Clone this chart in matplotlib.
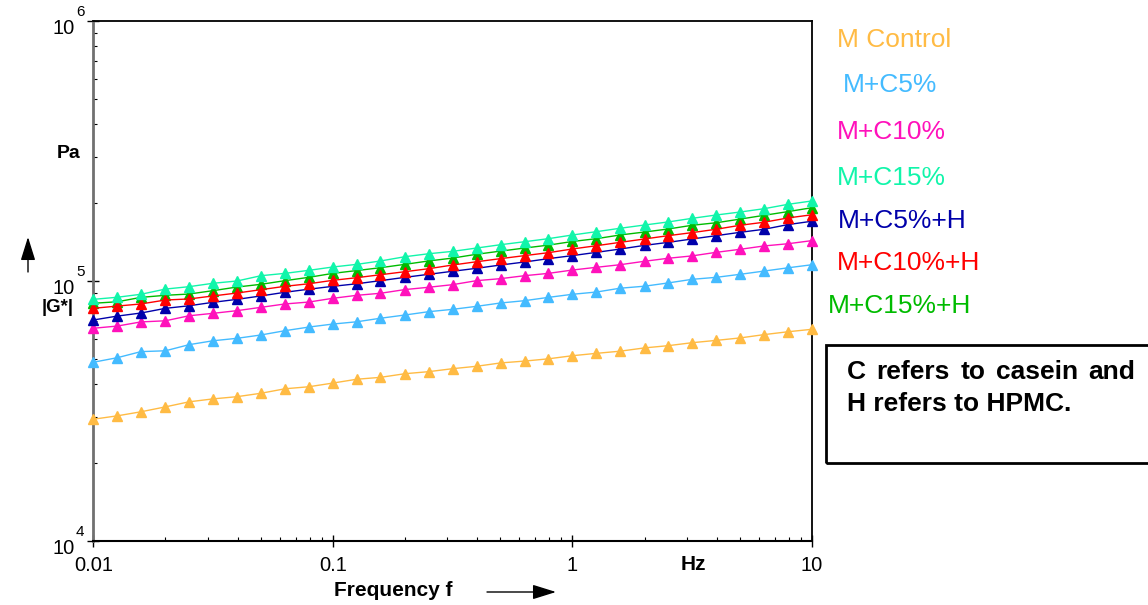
import matplotlib
matplotlib.use("Agg")
import matplotlib.pyplot as plt
import matplotlib.transforms as mtransforms
from matplotlib.ticker import LogLocator, FixedLocator, FixedFormatter, NullFormatter
from matplotlib.patches import Rectangle, FancyArrowPatch

plt.rcParams['font.family'] = ['Liberation Sans', 'DejaVu Sans']

# ---------------- data ----------------
freq = [0.01, 0.0126, 0.0158, 0.02, 0.0251, 0.0316, 0.0398, 0.0501, 0.0631, 0.0794,
        0.1, 0.126, 0.158, 0.2, 0.251, 0.316, 0.398, 0.501, 0.631, 0.794,
        1, 1.26, 1.58, 2, 2.51, 3.16, 3.98, 5.01, 6.31, 7.94, 10]

m_control = [29400, 30300, 31400, 32800, 34300, 35200, 35900, 37000, 38500, 39200,
             40500, 41900, 42600, 44000, 44800, 46000, 47000, 48400, 49200, 50200,
             51600, 52700, 53700, 55300, 56400, 57900, 59100, 60400, 62200, 63800, 65200]
m_c5 = [48700, 50700, 53500, 53900, 56900, 58900, 60200, 62000, 64400, 66500,
        68300, 69700, 71900, 74000, 76200, 77800, 79900, 82300, 84000, 86500,
        88900, 90700, 93800, 95500, 98300, 101500, 103300, 106100, 109200, 112400, 115500]
m_c10 = [65800, 67100, 69600, 70300, 73500, 75100, 76900, 79200, 81600, 83000,
         85800, 88100, 89700, 92700, 94600, 96800, 100300, 102100, 104800, 107000,
         110200, 112900, 115500, 119100, 122300, 124900, 128900, 132400, 136400, 139100, 143000]
m_c15 = [85000, 86600, 88900, 93100, 95100, 98000, 100000, 104800, 107000, 109900,
         113200, 115900, 119400, 124000, 127300, 130000, 133900, 137900, 141600, 145500,
         150300, 154800, 159500, 164200, 168700, 174200, 179400, 184200, 189700, 197200, 203200]
m_c5h = [70800, 73300, 75300, 78500, 80300, 82800, 85000, 87600, 90500, 93000,
         95400, 97600, 100300, 103300, 106100, 109000, 111900, 115200, 118300, 121900,
         125200, 128900, 132700, 137100, 140800, 145100, 149400, 153900, 158100, 164800, 169800]
m_c10h = [78500, 80100, 81600, 84500, 85300, 87600, 89900, 92600, 95400, 97600,
          100600, 103000, 105700, 108600, 111500, 115200, 118600, 121900, 125200, 128500,
          132800, 136700, 140800, 145100, 149400, 153500, 158100, 163800, 168300, 174800, 179800]
m_c15h = [82100, 83200, 86500, 88100, 89100, 91800, 94800, 97100, 100300, 103300,
          107000, 109700, 112500, 115900, 119400, 122500, 126700, 130300, 133900, 137400,
          141900, 145500, 150300, 154300, 158500, 163800, 167500, 173000, 178900, 184900, 191400]

series_names = ["M Control", "M+C5%", "M+C10%", "M+C15%", "M+C5%+H", "M+C10%+H", "M+C15%+H"]
series_values = [m_control, m_c5, m_c10, m_c15, m_c5h, m_c10h, m_c15h]
series_colors = ["#FFBB44", "#44BBFF", "#FF11BB", "#11F5AA", "#0000AA", "#FF0000", "#00BB00"]
series_z = [3, 3, 3, 7, 4, 6, 5]

xticks = [0.01, 0.1, 1, 10]
xtick_labels = ["0.01", "0.1", "1", "10"]
yticks = [1e4, 1e5, 1e6]
ytick_exponents = ["4", "5", "6"]

note_line1 = ["C", "refers", "to", "casein", "and"]
note_line2 = "H refers to HPMC."

W, H = 1148, 605
fig = plt.figure(figsize=(W / 100, H / 100), dpi=100)
fig.patch.set_facecolor("white")

def fx(x):
    return x / W

def fy(y):
    return 1 - y / H

AX_L, AX_R, AX_T, AX_B = 93.3, 812, 21, 541
ax = fig.add_axes([fx(AX_L), fy(AX_B), fx(AX_R) - fx(AX_L), fy(AX_T) - fy(AX_B)])

for name, vals, col, z in zip(series_names, series_values, series_colors, series_z):
    ax.plot(freq, vals, color=col, lw=1.0, marker="^", ms=6.5, mec=col, mfc=col,
            zorder=z, clip_on=False)

ax.set_xscale("log")
ax.set_yscale("log")
ax.set_xlim(0.01, 10)
ax.set_ylim(1e4, 1e6)

ax.xaxis.set_major_locator(FixedLocator(xticks))
ax.xaxis.set_major_formatter(FixedFormatter(xtick_labels))
ax.yaxis.set_major_locator(FixedLocator(yticks))
ax.yaxis.set_major_formatter(NullFormatter())
ax.xaxis.set_minor_locator(LogLocator(base=10, subs=range(2, 10)))
ax.yaxis.set_minor_locator(LogLocator(base=10, subs=range(2, 10)))
ax.xaxis.set_minor_formatter(NullFormatter())
ax.yaxis.set_minor_formatter(NullFormatter())

ax.tick_params(axis="both", which="major", direction="inout", length=8, width=1.0,
               labelsize=14.5, colors="black")
ax.tick_params(axis="x", which="major", pad=6.5)
ax.tick_params(axis="both", which="minor", direction="in", length=3, width=0.8)
ax.tick_params(top=False, right=False, which="both")

# y tick labels as "10" with raised exponent
blend = mtransforms.blended_transform_factory(fig.transFigure, ax.transData)
for yv, ex in zip(yticks, ytick_exponents):
    base_tr = blend + mtransforms.ScaledTranslation(0, -13.5 / 100, fig.dpi_scale_trans)
    ax.text(fx(75), yv, "10", transform=base_tr, fontsize=14.5, ha="right", va="baseline",
            clip_on=False)
    sup_tr = blend + mtransforms.ScaledTranslation(0, 4.5 / 100, fig.dpi_scale_trans)
    ax.text(fx(76), yv, ex, transform=sup_tr, fontsize=11, ha="left", va="baseline",
            clip_on=False)

ax.spines["left"].set_color("#707070")
ax.spines["left"].set_linewidth(2.0)
ax.spines["bottom"].set_color("black")
ax.spines["bottom"].set_linewidth(1.5)
ax.spines["top"].set_color("black")
ax.spines["top"].set_linewidth(1.3)
ax.spines["right"].set_color("black")
ax.spines["right"].set_linewidth(1.3)

# axis labels
fig.text(fx(69), fy(153), "Pa", fontsize=14, fontweight="bold", ha="center", va="center")
fig.text(fx(58), fy(307), "|G*|", fontsize=13.5, fontweight="bold", ha="center", va="center")
fig.text(fx(393), fy(591), "Frequency f", fontsize=15, fontweight="bold", ha="center", va="center")
fig.text(fx(693), fy(564), "Hz", fontsize=15, fontweight="bold", ha="center", va="center")

arrow_kw = dict(arrowstyle="-|>,head_length=0.8,head_width=0.25", color="black", lw=1.0,
                shrinkA=0, shrinkB=0, mutation_scale=18)
fig.add_artist(FancyArrowPatch((fx(28), fy(272)), (fx(28), fy(237)),
                               transform=fig.transFigure, **arrow_kw))
fig.add_artist(FancyArrowPatch((fx(487), fy(592)), (fx(556), fy(592)),
                               transform=fig.transFigure, **arrow_kw))

# series labels on the right
label_pos = [(837, 40), (843, 85), (837, 132), (837, 178), (838, 221), (837, 263), (828, 306)]
for name, col, (lx, ly) in zip(series_names, series_colors, label_pos):
    fig.text(fx(lx), fy(ly), name, color=col, fontsize=19, ha="left", va="center")

# note box
fig.add_artist(Rectangle((fx(826), fy(463)), fx(1160) - fx(826), fy(345) - fy(463),
                         transform=fig.transFigure, fill=False, edgecolor="black", lw=2.0))

# justified first line
renderer = fig.canvas.get_renderer()
word_artists = []
widths = []
for w in note_line1:
    t = fig.text(0, fy(372), w, fontsize=19, fontweight="bold", ha="left", va="center")
    word_artists.append(t)
    widths.append(t.get_window_extent(renderer=renderer).width)
line_start, line_end = 847.0, 1135.0
gap = (line_end - line_start - sum(widths)) / (len(note_line1) - 1)
cur = line_start
for t, wd in zip(word_artists, widths):
    t.set_x(fx(cur))
    cur += wd + gap

fig.text(fx(847), fy(404), note_line2, fontsize=19, fontweight="bold",
         ha="left", va="center")

fig.savefig("out.png", dpi=100, facecolor="white")
